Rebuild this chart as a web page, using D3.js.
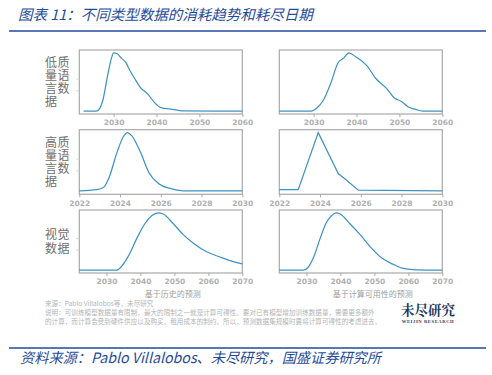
<!DOCTYPE html>
<html>
<head>
<meta charset="utf-8">
<script src="https://cdn.jsdelivr.net/npm/d3@7"></script>
<style>
  body { margin: 0; background: #fff; }
  svg { display: block; }
</style>
</head>
<body>
<svg id="chart" width="492" height="375"></svg>
<script>
// row labels and column x-labels
const rowLabels = [["低质", "量语", "言数", "据"], ["高质", "量语", "言数", "据"], ["视觉", "数据"]];
const colLabels = ["基于历史的预测", "基于计算可用性的预测"];

// x domains and ticks per row
const rowDomains = [[2022, 2060], [2022, 2030], [2022, 2070]];
const rowTicks = [[2030, 2040, 2050, 2060], [2022, 2024, 2026, 2028, 2030], [2030, 2040, 2050, 2060, 2070]];

// low quality language data
const lowHistYears = [2023, 2026, 2026.8, 2027.5, 2028.7, 2029.5, 2030, 2030.8, 2031.8, 2032.9, 2033.7, 2034.9, 2036.4, 2037.9, 2039.5, 2041, 2043.7, 2046, 2060];
const lowHistVals  = [0, 0, 0.05, 0.19, 0.65, 0.91, 1.0, 0.99, 0.91, 0.83, 0.71, 0.56, 0.39, 0.30, 0.15, 0.06, 0.03, 0.005, 0];
const lowCompYears = [2022, 2029.4, 2030.7, 2032.3, 2034, 2035.7, 2037, 2038.2, 2039.9, 2042.4, 2044.5, 2047, 2048.9, 2050.4, 2052.1, 2053.8, 2055.4, 2060];
const lowCompVals  = [0, 0, 0.05, 0.19, 0.48, 0.83, 0.91, 1.0, 0.93, 0.78, 0.56, 0.39, 0.22, 0.17, 0.07, 0.03, 0, 0];

// high quality language data
const highHistYears = [2022, 2022.85, 2023.2, 2023.5, 2023.8, 2024.16, 2024.36, 2024.57, 2025, 2025.4, 2025.9, 2026.45, 2027.1, 2030];
const highHistVals  = [0.01, 0.03, 0.07, 0.27, 0.61, 0.93, 1.0, 0.95, 0.67, 0.33, 0.13, 0.05, 0.01, 0.01];
const highCompYears = [2022, 2022.93, 2023.91, 2024.9, 2025.2, 2025.88, 2030];
const highCompVals  = [0.03, 0.03, 1.0, 0.30, 0.22, 0.02, 0.01];

// vision data
const visHistYears = [2022, 2033, 2034.5, 2036.4, 2038.9, 2041.3, 2043.3, 2045.3, 2046.7, 2049.7, 2052.6, 2055.6, 2059.5, 2063.4, 2067.3, 2070];
const visHistVals  = [0, 0, 0.07, 0.24, 0.55, 0.81, 0.95, 1.0, 0.98, 0.81, 0.62, 0.47, 0.32, 0.23, 0.15, 0.11];
const visCompYears = [2022, 2029.1, 2030.5, 2032, 2034, 2035.75, 2037.4, 2038.7, 2039.9, 2042.8, 2045.8, 2049.2, 2052.2, 2055.6, 2058.5, 2062.5, 2070];
const visCompVals  = [0, 0, 0.05, 0.21, 0.55, 0.82, 0.95, 1.0, 0.98, 0.81, 0.62, 0.38, 0.21, 0.10, 0.03, 0.005, 0];

const panels = [
  [[lowHistYears, lowHistVals], [lowCompYears, lowCompVals]],
  [[highHistYears, highHistVals], [highCompYears, highCompVals]],
  [[visHistYears, visHistVals], [visCompYears, visCompVals]]
];

const svg = d3.select("#chart");
const blue = "#1f4b9b";
const lineColor = "#3f93c4";
const frameColor = "#a9a9a9";

svg.append("rect").attr("width", 492).attr("height", 375).attr("fill", "#fff");

// title
svg.append("text")
  .attr("x", 18).attr("y", 20)
  .style("font-family", "'Noto Sans CJK SC', sans-serif")
  .style("font-size", "14.5px")
  .style("font-style", "italic")
  .style("fill", blue)
  .text("图表 11：不同类型数据的消耗趋势和耗尽日期");
svg.append("line").attr("x1", 9).attr("x2", 486).attr("y1", 31).attr("y2", 31)
  .style("stroke", blue).style("stroke-width", 1.5);

// layout
const colX = [79.3, 279.3];
const panelW = 163;
const rowY = [[50, 114], [129.7, 194.3], [210, 273]];

panels.forEach(function (row, r) {
  row.forEach(function (series, c) {
    const x0 = colX[c], top = rowY[r][0], bot = rowY[r][1];
    const x = d3.scaleLinear().domain(rowDomains[r]).range([x0, x0 + panelW]);
    const y = d3.scaleLinear().domain([-0.05, 1.05]).range([bot, top]);
    const g = svg.append("g");

    // frame
    g.append("rect")
      .attr("x", x0).attr("y", top)
      .attr("width", panelW).attr("height", bot - top)
      .style("fill", "none").style("stroke", frameColor).style("stroke-width", 1.2);

    // faint y ticks on left column
    if (c === 0) {
      [0.55, 0.35].forEach(function (v) {
        g.append("line").attr("x1", x0 - 3).attr("x2", x0 - 1.5)
          .attr("y1", y(v)).attr("y2", y(v))
          .style("stroke", "#ccc").style("stroke-width", 1);
      });
    }

    // x axis
    const xAxis = d3.axisBottom(x).tickValues(rowTicks[r]).tickFormat(d3.format("d"))
      .tickSize(3).tickPadding(3);
    const ax = g.append("g").attr("transform", "translate(0," + bot + ")").call(xAxis);
    ax.select(".domain").remove();
    ax.selectAll("line").style("stroke", frameColor);
    ax.selectAll("text")
      .style("font-family", "'DejaVu Sans', sans-serif")
      .style("font-size", "7.5px")
      .style("font-weight", "bold")
      .style("fill", "#b0b0b0");

    // curve
    const pts = series[0].map(function (d, i) { return [d, series[1][i]]; });
    const line = d3.line()
      .x(function (d) { return x(d[0]); })
      .y(function (d) { return y(d[1]); })
      .curve(r === 1 && c === 1 ? d3.curveLinear : d3.curveMonotoneX);
    g.append("path").datum(pts)
      .attr("d", line)
      .style("fill", "none")
      .style("stroke", lineColor)
      .style("stroke-width", 1.25);
  });

  // row label, one text block with a tspan per line
  const lines = rowLabels[r];
  const mid = (rowY[r][0] + rowY[r][1]) / 2;
  const lh = 13.2;
  const lbl = svg.append("text")
    .attr("x", 45)
    .attr("y", mid - (lines.length - 1) * lh / 2 + 4.5)
    .style("font-family", "'Noto Sans CJK SC', sans-serif")
    .style("font-size", "12px")
    .style("letter-spacing", "0.5px")
    .style("fill", "#6e6e6e");
  lines.forEach(function (t, i) {
    lbl.append("tspan")
      .attr("x", 45)
      .attr("dy", i === 0 ? 0 : lh)
      .text(t);
  });
});

// column x labels
colLabels.forEach(function (t, c) {
  svg.append("text")
    .attr("x", colX[c] + panelW / 2 + 12)
    .attr("y", 297)
    .attr("text-anchor", "middle")
    .style("font-family", "'Noto Sans CJK SC', sans-serif")
    .style("font-size", "8px")
    .style("fill", "#a0a0a0")
    .text(t);
});

// source notes
const notes = [
  "来源：Pablo Villalobos等，未尽研究",
  "说明：可训练模型数据量有限制，最大的限制之一就是计算可得性。要对已有模型增加训练数据量，需要更多额外",
  "的计算，而计算会受到硬件供应以及购买、租用成本的制约。所以，预测数据集规模时要将计算可得性的考虑进去。"
];
notes.forEach(function (t, i) {
  svg.append("text")
    .attr("x", 45).attr("y", 305.5 + i * 9)
    .style("font-family", "'Noto Sans CJK SC', sans-serif")
    .style("font-size", "6.6px")
    .style("fill", "#b4b4b4")
    .text(t);
});

// logo
svg.append("text")
  .attr("x", 428).attr("y", 315)
  .attr("text-anchor", "middle")
  .style("font-family", "'Noto Serif CJK SC', 'Noto Sans CJK SC', serif")
  .style("font-size", "13.5px")
  .style("font-weight", "bold")
  .style("fill", "#1d3a63")
  .text("未尽研究");
svg.append("text")
  .attr("x", 428).attr("y", 322.5)
  .attr("text-anchor", "middle")
  .style("font-family", "'Liberation Serif', serif")
  .style("font-size", "4.6px")
  .style("font-weight", "bold")
  .style("letter-spacing", "0.6px")
  .style("fill", "#1d3a63")
  .text("WEIJIN RESEARCH");

// footer
svg.append("line").attr("x1", 9).attr("x2", 486).attr("y1", 348).attr("y2", 348)
  .style("stroke", blue).style("stroke-width", 1.5);
svg.append("text")
  .attr("x", 20).attr("y", 363)
  .style("font-family", "'Noto Sans CJK SC', sans-serif")
  .style("font-size", "14.2px")
  .style("font-style", "italic")
  .style("fill", blue)
  .text("资料来源：Pablo Villalobos、未尽研究，国盛证券研究所");
</script>
</body>
</html>
